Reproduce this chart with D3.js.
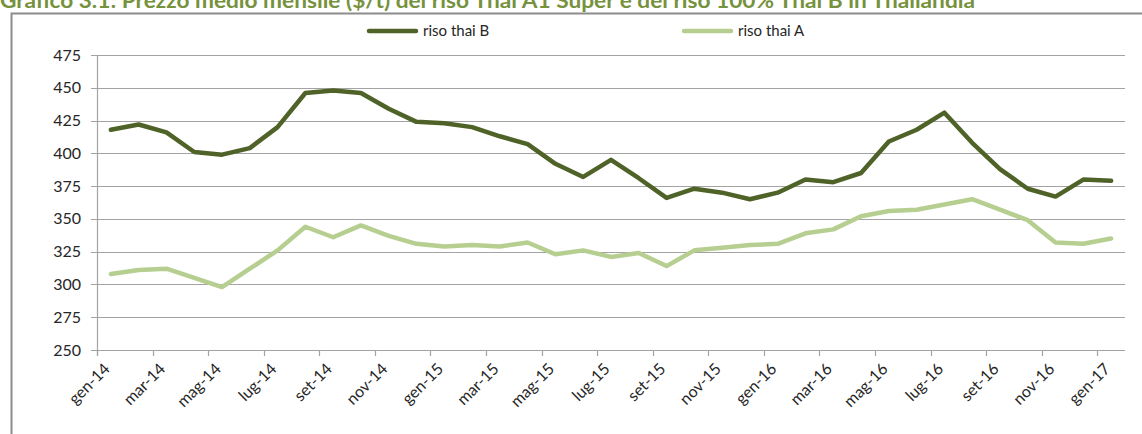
<!DOCTYPE html>
<html>
<head>
<meta charset="utf-8">
<title>Riso thai</title>
<script src="https://d3js.org/d3.v7.min.js"></script>
<style>
  body { margin: 0; background: #fff; }
  svg { display: block; font-family: Lato, 'Open Sans', sans-serif; }
</style>
</head>
<body>
<script>
var months = ['gen-14','feb-14','mar-14','apr-14','mag-14','giu-14','lug-14','ago-14','set-14','ott-14','nov-14','dic-14',
              'gen-15','feb-15','mar-15','apr-15','mag-15','giu-15','lug-15','ago-15','set-15','ott-15','nov-15','dic-15',
              'gen-16','feb-16','mar-16','apr-16','mag-16','giu-16','lug-16','ago-16','set-16','ott-16','nov-16','dic-16',
              'gen-17']
var risoB = [418, 422, 416, 401, 399, 404, 420, 446, 448, 446, 434, 424,
             423, 420, 413, 407, 392, 382, 395, 381, 366, 373, 370, 365,
             370, 380, 378, 385, 409, 418, 431, 408, 388, 373, 367, 380,
             379]
var risoA = [308, 311, 312, 305, 298, 312, 326, 344, 336, 345, 337, 331,
             329, 330, 329, 332, 323, 326, 321, 324, 314, 326, 328, 330,
             331, 339, 342, 352, 356, 357, 361, 365, 357, 349, 332, 331,
             335]
var yTicks = [250, 275, 300, 325, 350, 375, 400, 425, 450, 475]

var w = 1142
var h = 434
var svg = d3.select('body').append('svg').attr('width', w).attr('height', h)

// title, cut by the top edge as in the original
svg.append('text')
    .attr('x', 0)
    .attr('y', 8)
    .attr('fill', '#76923c')
    .attr('font-weight', 'bold')
    .attr('font-size', 21)
    .attr('textLength', 975)
    .attr('lengthAdjust', 'spacingAndGlyphs')
    .text('Grafico 3.1: Prezzo medio mensile ($/t) del riso Thai A1 Super e del riso 100% Thai B in Thailandia')

// chart frame
svg.append('path')
    .attr('d', 'M11.5,' + h + 'V13.5H' + w)
    .attr('fill', 'none')
    .attr('stroke', '#8c8c8c')
    .attr('stroke-width', 2)

var plotLeft = 97, plotRight = 1125, plotTop = 55, plotBottom = 350

var xScale = d3.scaleBand().domain(months).range([plotLeft, plotRight])
var yScale = d3.scaleLinear().domain([250, 475]).range([plotBottom, plotTop])

// gridlines
svg.append('g')
    .selectAll('line')
    .data(yTicks)
    .enter()
    .append('line')
    .attr('x1', plotLeft - 6)
    .attr('x2', plotRight)
    .attr('y1', function(d) { return Math.round(yScale(d)) + 0.5 })
    .attr('y2', function(d) { return Math.round(yScale(d)) + 0.5 })
    .attr('stroke', '#a3a3a3')
    .attr('stroke-width', 1.2)

// y axis line
svg.append('line')
    .attr('x1', plotLeft + 0.5).attr('x2', plotLeft + 0.5)
    .attr('y1', plotTop).attr('y2', plotBottom + 6)
    .attr('stroke', '#a3a3a3')
    .attr('stroke-width', 1.2)

// y labels
svg.append('g')
    .selectAll('text')
    .data(yTicks)
    .enter()
    .append('text')
    .attr('x', 81)
    .attr('y', function(d) { return yScale(d) })
    .attr('dy', '0.35em')
    .attr('text-anchor', 'end')
    .attr('font-size', 16)
    .attr('fill', '#262626')
    .text(function(d) { return d })

// x tick marks every two months at the category boundaries
var tickMonths = months.filter(function(d, i) { return i % 2 == 0 })
svg.append('g')
    .selectAll('line')
    .data(tickMonths)
    .enter()
    .append('line')
    .attr('x1', function(d) { return Math.round(xScale(d)) + 0.5 })
    .attr('x2', function(d) { return Math.round(xScale(d)) + 0.5 })
    .attr('y1', plotBottom)
    .attr('y2', plotBottom + 6)
    .attr('stroke', '#a3a3a3')
    .attr('stroke-width', 1.2)

// x labels
svg.append('g')
    .selectAll('text')
    .data(tickMonths)
    .enter()
    .append('text')
    .attr('transform', function(d) {
        var cx = xScale(d) + xScale.bandwidth() / 2 - 8
        return 'translate(' + cx + ',' + (plotBottom + 12) + ') rotate(-45)'
    })
    .attr('text-anchor', 'end')
    .attr('dy', '0.7em')
    .attr('font-size', 16)
    .attr('fill', '#262626')
    .text(function(d) { return d })

var line = function(vals) {
    return d3.line()
        .x(function(d, i) { return xScale(months[i]) + xScale.bandwidth() / 2 })
        .y(function(d) { return yScale(d) })(vals)
}

svg.append('path')
    .attr('d', line(risoA))
    .attr('fill', 'none')
    .attr('stroke', '#b6cf91')
    .attr('stroke-width', 4.5)
    .attr('stroke-linejoin', 'round')
    .attr('stroke-linecap', 'round')

svg.append('path')
    .attr('d', line(risoB))
    .attr('fill', 'none')
    .attr('stroke', '#4f6228')
    .attr('stroke-width', 4.5)
    .attr('stroke-linejoin', 'round')
    .attr('stroke-linecap', 'round')

// legend
var legend = [
    { name: 'riso thai B', color: '#4f6228', x: 369 },
    { name: 'riso thai A', color: '#b6cf91', x: 684 }
]
var lg = svg.append('g')
    .selectAll('g')
    .data(legend)
    .enter()
    .append('g')
lg.append('line')
    .attr('x1', function(d) { return d.x })
    .attr('x2', function(d) { return d.x + 47 })
    .attr('y1', 31)
    .attr('y2', 31)
    .attr('stroke', function(d) { return d.color })
    .attr('stroke-width', 4.5)
    .attr('stroke-linecap', 'round')
lg.append('text')
    .attr('x', function(d) { return d.x + 54 })
    .attr('y', 31)
    .attr('dy', '0.35em')
    .attr('font-size', 15)
    .attr('fill', '#262626')
    .text(function(d) { return d.name })
</script>
</body>
</html>
